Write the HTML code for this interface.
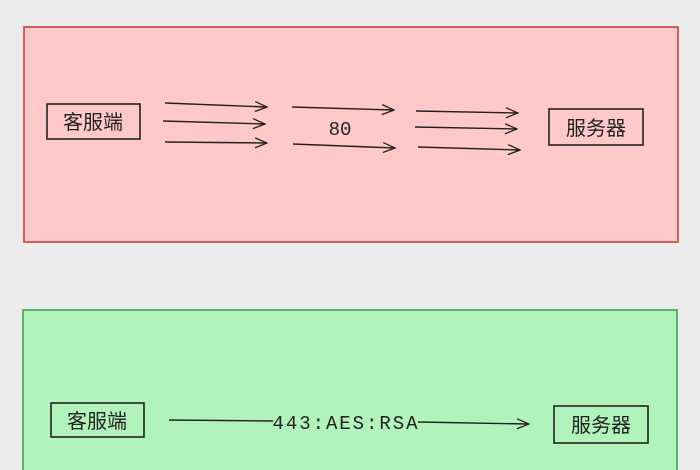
<!DOCTYPE html>
<html><head><meta charset="utf-8"><style>
body{margin:0;width:700px;height:470px;background:#ececec;overflow:hidden}
svg{display:block}
text{font-family:"Liberation Sans","Noto Sans CJK SC",sans-serif;fill:#222}
text.m{font-family:"Liberation Mono",monospace}
</style></head><body>
<svg width="700" height="470" viewBox="0 0 700 470">
<defs><marker id="a" markerWidth="14" markerHeight="12" refX="13" refY="6" orient="auto" markerUnits="userSpaceOnUse"><path d="M1,1 L13,6 L1,11" fill="none" stroke="#222" stroke-width="1.3"/></marker></defs>
<rect x="24" y="27" width="654" height="215" fill="#ffc9c9" stroke="#c33" stroke-width="1.5"/>
<rect x="23" y="310" width="654" height="170" fill="#b2f2bb" stroke="#2f9e44" stroke-width="1.5"/>
<g stroke="#222" stroke-width="1.6" fill="none">
<rect x="47" y="104" width="93" height="35"/>
<rect x="549" y="109" width="94" height="36"/>
<rect x="51" y="403" width="93" height="34"/>
<rect x="554" y="406" width="94" height="37"/>
<g marker-end="url(#a)" stroke-width="1.4">
<line x1="165" y1="103" x2="267" y2="107"/>
<line x1="163" y1="121" x2="265" y2="124"/>
<line x1="165" y1="142" x2="267" y2="143"/>
<line x1="292" y1="107" x2="394" y2="110"/>
<line x1="293" y1="144" x2="395" y2="148"/>
<line x1="416" y1="111" x2="518" y2="113"/>
<line x1="415" y1="127" x2="517" y2="129"/>
<line x1="418" y1="147" x2="520" y2="150"/>
<line x1="418" y1="422" x2="529" y2="424"/>
</g>
<line x1="169" y1="420" x2="273" y2="421" stroke-width="1.4"/>
</g>
<text x="93" y="129" font-size="20" text-anchor="middle">客服端</text>
<text x="596" y="135" font-size="20" text-anchor="middle">服务器</text>
<text class="m" x="340" y="135" font-size="19" text-anchor="middle">80</text>
<text x="97" y="428" font-size="20" text-anchor="middle">客服端</text>
<text x="601" y="432" font-size="20" text-anchor="middle">服务器</text>
<text class="m" x="345" y="429" font-size="19" text-anchor="middle" textLength="145">443:AES:RSA</text>
</svg>
</body></html>
